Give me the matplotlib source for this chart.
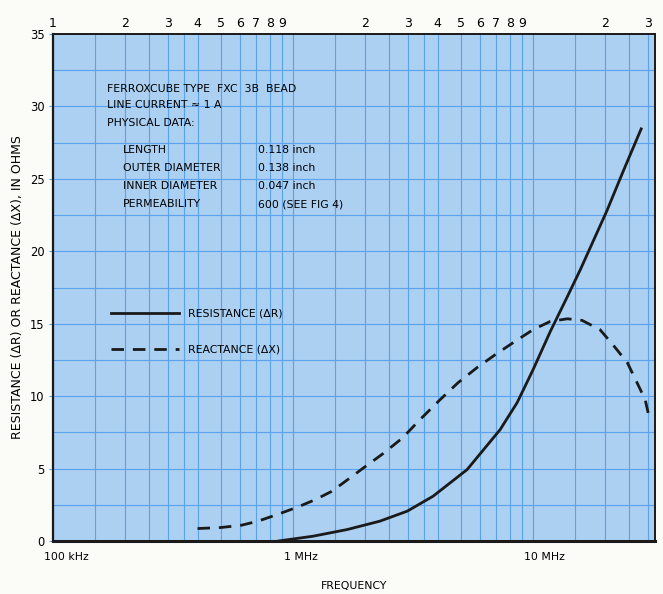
import numpy as np
import matplotlib
matplotlib.use('Agg')
import matplotlib.pyplot as plt
import matplotlib.transforms as mtransforms

# frequency in Hz, values in ohms
freq_r = np.array([0.87, 1.21, 1.68, 2.3, 2.99, 3.83, 5.31, 7.29, 8.58, 10.0,
                   11.8, 13.9, 15.7, 20.3, 23.7, 28.2]) * 1e6
resistance = np.array([0.0, 0.33, 0.79, 1.37, 2.06, 3.09, 4.93, 7.69, 9.55, 11.83,
                       14.47, 16.88, 18.7, 22.8, 25.5, 28.45])

freq_x = np.array([0.40, 0.50, 0.61, 0.715, 0.86, 1.04, 1.24, 1.45, 1.69, 2.0,
                   2.37, 2.85, 3.38, 4.1, 4.87, 5.84, 6.95, 8.41, 10.0, 11.8,
                   13.9, 16.0, 19.0, 21.5, 24.7, 27.1, 29.3, 30.4]) * 1e6
reactance = np.array([0.86, 0.93, 1.09, 1.37, 1.83, 2.33, 2.86, 3.43, 4.24, 5.14,
                      6.03, 7.1, 8.38, 9.76, 10.93, 11.97, 12.86, 13.78, 14.59, 15.16,
                      15.34, 15.23, 14.59, 13.55, 12.31, 10.93, 9.76, 8.6])

decade_ticks = [1e5, 1e6, 1e7]
decade_labels = ['100 kHz', '1 MHz', '10 MHz']
cycle_ticks = [1e5, 2e5, 3e5, 4e5, 5e5, 6e5, 7e5, 8e5, 9e5,
               2e6, 3e6, 4e6, 5e6, 6e6, 7e6, 8e6, 9e6, 2e7, 3e7]
cycle_labels = ['1', '2', '3', '4', '5', '6', '7', '8', '9',
                '2', '3', '4', '5', '6', '7', '8', '9', '2', '3']
grid_steps = [1, 1.5, 2, 2.5, 3, 3.5, 4, 5, 6, 7, 8, 9]

info_lines = ['FERROXCUBE TYPE  FXC  3B  BEAD', 'LINE CURRENT \u2248 1 A', 'PHYSICAL DATA:']
prop_names = ['LENGTH', 'OUTER DIAMETER', 'INNER DIAMETER', 'PERMEABILITY']
prop_values = ['0.118 inch', '0.138 inch', '0.047 inch', '600 (SEE FIG 4)']

plt.rcParams['font.family'] = ['DejaVu Sans']
fs = 7.8

fig = plt.figure(figsize=(6.63, 5.94), dpi=100, facecolor='#fbfbf8')
ax = fig.add_axes([53 / 663, 1 - 541 / 594, 602 / 663, 507 / 594])
ax.set_facecolor('#abd0f2')

ax.set_xscale('log')
ax.set_xlim(1e5, 3.22e7)
ax.set_ylim(0, 35)

# log-paper grid
vgrid = [s * d for d in [1e5, 1e6, 1e7] for s in grid_steps if s * d < 3.22e7]
for v in vgrid:
    ax.axvline(v, color='#5aa3ec', lw=0.8, zorder=1)
for h in np.arange(2.5, 35, 2.5):
    ax.axhline(h, color='#5aa3ec', lw=0.8, zorder=1)

ax.plot(freq_r, resistance, color='#1a1a1a', lw=2.0, zorder=3,
        label='RESISTANCE (\u0394R)')
ax.plot(freq_x, reactance, color='#1a1a1a', lw=2.0, dashes=(4.5, 3.2), zorder=3,
        label='REACTANCE (\u0394X)')

ax.set_xticks(decade_ticks)
ax.set_xticklabels(decade_labels, fontsize=fs)
ax.xaxis.set_minor_locator(matplotlib.ticker.NullLocator())
ax.tick_params(axis='x', length=0, pad=8)
offset = mtransforms.ScaledTranslation(-0.09, 0, fig.dpi_scale_trans)
for lab in ax.get_xticklabels():
    lab.set_ha('left')
    lab.set_transform(lab.get_transform() + offset)

ax.set_yticks(np.arange(0, 36, 5))
ax.tick_params(axis='y', labelsize=fs + 0.5, length=3, pad=3, color='#5aa3ec')

top = ax.secondary_xaxis('top')
top.set_xticks(cycle_ticks)
top.set_xticklabels(cycle_labels, fontsize=9)
top.xaxis.set_minor_locator(matplotlib.ticker.NullLocator())
top.tick_params(axis='x', length=0, pad=3)

for s in ax.spines.values():
    s.set_color('#1a1a1a')
    s.set_linewidth(1.4)
ax.spines['bottom'].set_linewidth(2.2)
ax.spines['left'].set_linewidth(1.6)
top.spines['top'].set_visible(False)

ax.set_xlabel('FREQUENCY', fontsize=fs)
ax.xaxis.set_label_coords(0.5, -0.078)
ax.set_ylabel('RESISTANCE (\u0394R) OR REACTANCE (\u0394X), IN OHMS', fontsize=9)
ax.yaxis.set_label_coords(-0.048, 0.5)

# annotation block
ys = [0.891, 0.860, 0.824]
for y, t in zip(ys, info_lines):
    ax.text(0.0897, y, t, transform=ax.transAxes, fontsize=fs, va='center', zorder=4)
for i, (n, v) in enumerate(zip(prop_names, prop_values)):
    y = 0.771 - i * 0.0355
    ax.text(0.116, y, n, transform=ax.transAxes, fontsize=fs, va='center', zorder=4)
    ax.text(0.3405, y, v, transform=ax.transAxes, fontsize=fs, va='center', zorder=4)

ax.legend(loc='upper left', bbox_to_anchor=(0.097, 0.458), frameon=False,
          fontsize=fs, handlelength=6.2, handletextpad=0.9, labelspacing=2.4,
          borderpad=0, borderaxespad=0)

fig.savefig('out.png', dpi=100, facecolor=fig.get_facecolor())
